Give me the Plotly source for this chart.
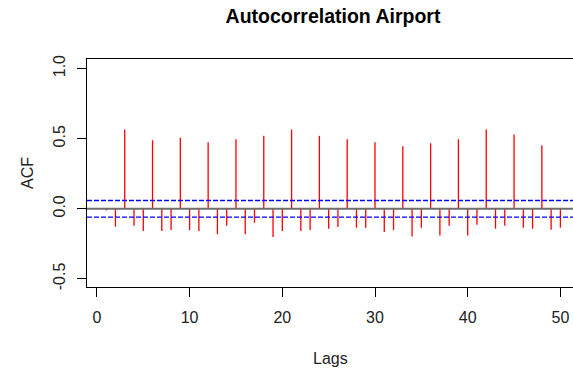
import plotly.graph_objects as go

lags = list(range(1, 51))
acf_values = [
    -0.012, -0.128, 0.565, -0.121, -0.159, 0.489, -0.159, -0.152, 0.506, -0.152,
    -0.159, 0.475, -0.182, -0.121, 0.496, -0.182, -0.100, 0.520, -0.201, -0.159,
    0.565, -0.159, -0.152, 0.520, -0.142, -0.130, 0.496, -0.135, -0.135, 0.475,
    -0.166, -0.152, 0.446, -0.197, -0.135, 0.467, -0.190, -0.121, 0.496, -0.190,
    -0.114, 0.565, -0.142, -0.121, 0.529, -0.135, -0.142, 0.453, -0.150, -0.135,
]
conf_limit = 0.059
x_ticks = [0, 10, 20, 30, 40, 50]
y_ticks = [-0.5, 0.0, 0.5, 1.0]
y_tick_text = ["-0.5", "0.0", "0.5", "1.0"]

xs, ys = [], []
for k, v in zip(lags, acf_values):
    xs += [k, k, None]
    ys += [0, v, None]

fig = go.Figure()
fig.add_trace(go.Scatter(x=xs, y=ys, mode="lines",
                         line=dict(color="#ff0000", width=1.3),
                         hoverinfo="skip", showlegend=False))

fig.add_hline(y=0, line=dict(color="#6e6e6e", width=2))
for c in (conf_limit, -conf_limit):
    fig.add_hline(y=c, line=dict(color="#0000ff", width=1.3, dash="5px,2px"))

font = "Liberation Sans, Arial, sans-serif"
fig.update_layout(
    width=573, height=372,
    margin=dict(l=87, r=0, t=59, b=85),
    paper_bgcolor="white", plot_bgcolor="white",
    font=dict(family=font, size=16, color="#222222"),
    title=dict(text="<b>Autocorrelation Airport</b>", x=333 / 573, xref="container",
               xanchor="center", y=1 - 16 / 372, yref="container", yanchor="middle",
               font=dict(size=19.5, color="#000000", family=font)),
    xaxis=dict(range=[-1.07, 51.36], tickvals=x_ticks, showgrid=False, zeroline=False,
               showline=True, linecolor="#000000", linewidth=1, mirror=True,
               ticks="outside", ticklen=9, tickcolor="#000000",
               tickfont=dict(size=16), ticklabelstandoff=7),
    yaxis=dict(range=[-0.558, 1.068], tickvals=y_ticks, ticktext=y_tick_text,
               showgrid=False, zeroline=False,
               showline=True, linecolor="#000000", linewidth=1,
               ticks="outside", ticklen=9, tickcolor="#000000",
               tickangle=-90, tickfont=dict(size=16), ticklabelstandoff=6),
    annotations=[
        dict(text="Lags", xref="paper", yref="paper", x=0.5, y=-(358 - 287) / 228,
             xanchor="center", yanchor="middle", showarrow=False,
             font=dict(size=16, color="#222222")),
        dict(text="ACF", xref="paper", yref="paper", x=(27 - 87) / 486, y=0.5,
             xanchor="center", yanchor="middle", showarrow=False, textangle=-90,
             font=dict(size=16, color="#222222")),
    ],
)

fig.write_html("out.html")
